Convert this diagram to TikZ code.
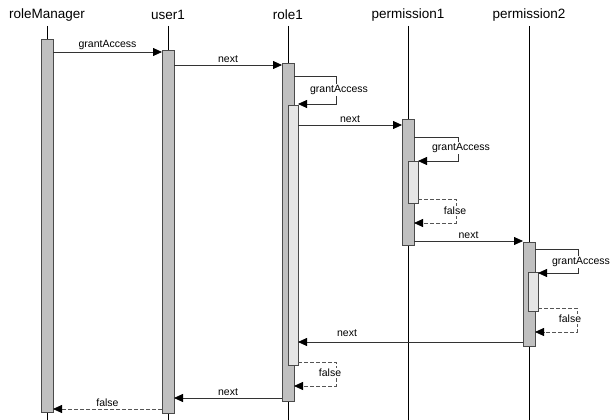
\documentclass[tikz,border=0pt]{standalone}
\usepackage{fontspec}
\setmainfont{Liberation Sans}
\usetikzlibrary{arrows.meta}
\definecolor{actfill}{HTML}{C0C0C0}
\definecolor{nestfill}{HTML}{E6E6E6}
\definecolor{actdraw}{HTML}{4A4A4A}
\definecolor{msgcol}{HTML}{333333}
\definecolor{retcol}{HTML}{555555}
\begin{document}
\begin{tikzpicture}[x=1pt,y=-1pt,
  head/.style={font=\fontsize{13.5}{15}\selectfont, inner sep=0pt},
  lbl/.style={font=\fontsize{10.5}{12}\selectfont, inner sep=0pt},
  slbl/.style={lbl, fill=white, inner sep=1pt},
  act/.style={draw=actdraw, fill=actfill, line width=0.9pt, minimum width=12pt, inner sep=0pt, outer sep=0pt, anchor=north},
  nest/.style={act, fill=nestfill, minimum width=10pt},
  life/.style={draw=black, line width=0.8pt},
  msg/.style={draw=msgcol, line width=0.8pt, -{Triangle[length=9pt,width=8pt,color=black,fill=black]}},
  ret/.style={msg, draw=retcol, dash pattern=on 4pt off 2pt}]
\useasboundingbox (0,0) rectangle (611,420);
% headers
\node[head] (hRM) at (47,15) {roleManager};
\node[head] (hU) at (168,15) {user1};
\node[head] (hR) at (288,15) {role1};
\node[head] (hP1) at (408,15) {permission1};
\node[head] (hP2) at (529,15) {permission2};
% lifelines
\coordinate (eRM) at (47,420);
\coordinate (eU) at (168,420);
\coordinate (eR) at (288,420);
\coordinate (eP1) at (408,420);
\coordinate (eP2) at (529,420);
\draw[life] (hRM.south |- 0,26) -- (eRM);
\draw[life] (hU.south |- 0,26) -- (eU);
\draw[life] (hR.south |- 0,26) -- (eR);
\draw[life] (hP1.south |- 0,26) -- (eP1);
\draw[life] (hP2.south |- 0,26) -- (eP2);
% activations
\node[act, minimum height=373pt] (aRM) at (47,39) {};
\node[act, minimum height=363pt] (aU) at (168,50) {};
\node[act, minimum height=338pt] (aR) at (288,63) {};
\node[nest, minimum height=260pt] (nR) at (293,105) {};
\node[act, minimum height=126pt] (aP1) at (408,119) {};
\node[nest, minimum height=42pt] (nP1) at (413,161) {};
\node[act, minimum height=104pt] (aP2) at (529,242) {};
\node[nest, minimum height=39pt] (nP2) at (533,272) {};
% messages
\draw[msg] (aRM.east |- 0,52) -- node[lbl, above=2pt] {grantAccess} (aU.west |- 0,52);
\draw[msg] (aU.east |- 0,65) -- node[lbl, above=2pt] {next} (aR.west |- 0,65);
\draw[msg] (aR.east |- 0,76) -- (336,76) -- (336,104) -- (nR.east |- 0,104);
\node[slbl] (l1) at (339,90) {grantAccess};
\draw[msg] (nR.east |- 0,125) -- node[lbl, above=2pt] {next} (aP1.west |- 0,125);
\draw[msg] (aP1.east |- 0,137) -- (458,137) -- (458,161) -- (nP1.east |- 0,161);
\node[slbl] (l2) at (461,148) {grantAccess};
\draw[ret] (nP1.east |- 0,199) -- (456,199) -- (456,223) -- (aP1.east |- 0,223);
\node[slbl] (l3) at (455,211) {false};
\draw[msg] (aP1.east |- 0,241) -- node[lbl, above=2pt] {next} (aP2.west |- 0,241);
\draw[msg] (aP2.east |- 0,249) -- (578,249) -- (578,273) -- (nP2.east |- 0,273);
\node[slbl] (l4) at (581,262) {grantAccess};
\draw[ret] (nP2.east |- 0,308) -- (577,308) -- (577,332) -- (aP2.east |- 0,332);
\node[slbl] (l5) at (570,319) {false};
\draw[msg] (aP2.west |- 0,342) -- (nR.east |- 0,342);
\node[lbl] (l6) at (347,333) {next};
\draw[ret] (nR.east |- 0,362) -- (336,362) -- (336,386) -- (aR.east |- 0,386);
\node[slbl] (l7) at (330,373) {false};
\draw[msg] (aR.west |- 0,398) -- node[lbl, above=2pt] {next} (aU.east |- 0,398);
\draw[ret] (aU.west |- 0,409) -- node[lbl, above=2pt] {false} (aRM.east |- 0,409);
\end{tikzpicture}
\end{document}
